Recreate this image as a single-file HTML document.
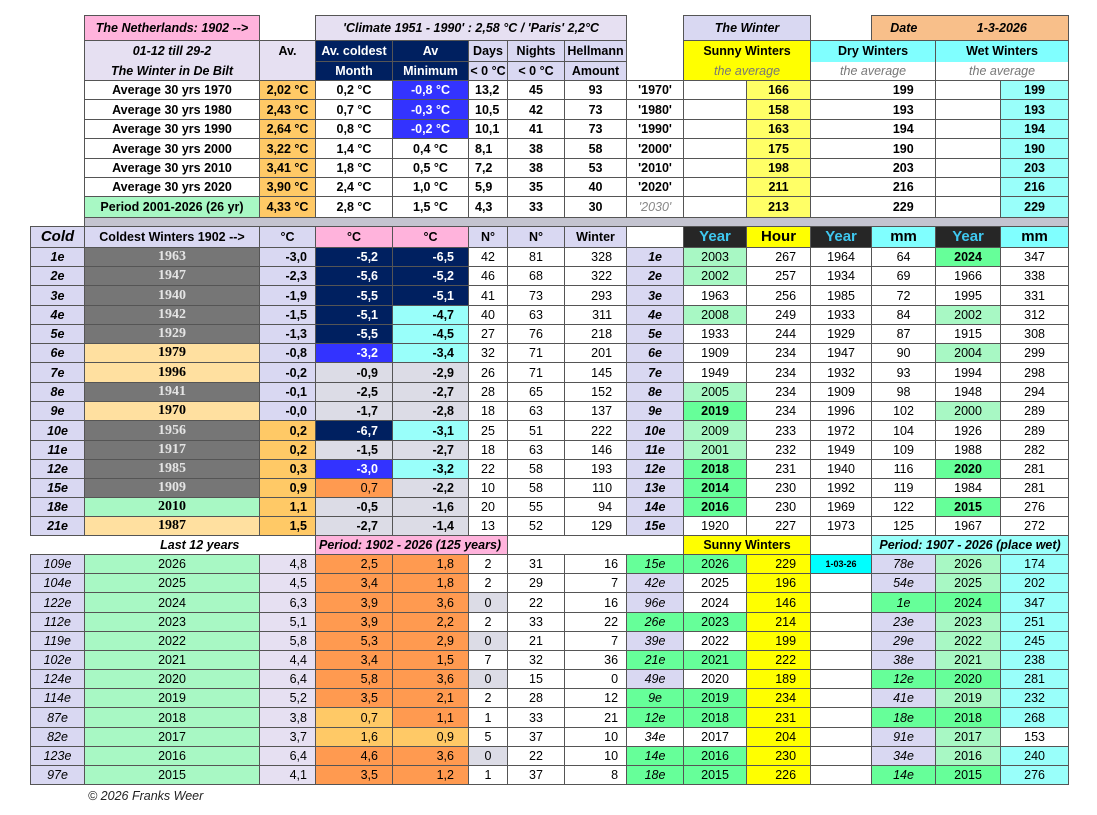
<!DOCTYPE html>
<html><head><meta charset="utf-8"><style>
body{margin:0;background:#fff;width:1097px;height:815px;overflow:hidden;font-family:"Liberation Sans",sans-serif;}
table{position:absolute;left:30px;top:15px;border-collapse:collapse;table-layout:fixed;width:1038px;}
td{border:1px solid #555;padding:0;text-align:center;font-size:12.5px;line-height:14px;overflow:hidden;white-space:nowrap;color:#000}
td.n{border:none;background:#fff}
.b{font-weight:bold}.i{font-style:italic}
.r{text-align:right;padding-right:14px}.r8{text-align:right;padding-right:8px}.l{text-align:left;padding-left:6px}
.pk{background:#ffb3dc}.lv{background:#e6e0f2}.lv2{background:#d9d8f2}.nv{background:#002060;color:#fff}
.bl{background:#3333ff;color:#fff}.or{background:#ffc966}.cy{background:#99fffa}.cy2{background:#80ffff}
.ye{background:#ffff00}.ye2{background:#ffff66}.gr{background:#a8f8c4}.sg{background:#66ff99}
.gy{background:#767676;color:#e4e4e4;font-family:"Liberation Serif",serif;font-size:14px}
.pe{background:#ffe0a0;font-family:"Liberation Serif",serif;font-size:14px}
.gs{font-family:"Liberation Serif",serif;font-size:14px}
.gl{background:#dcdce6}.o2{background:#ff9a50}.dk{background:#262626;color:#3fc8f0;font-size:15px}
.dt{background:#f8bf8a}.sep{background:#c4c4d0}.cyh{background:#00ffff}
.h15{font-size:15px}
</style></head><body>
<table>
<colgroup><col style="width:54px"><col style="width:175px"><col style="width:56px"><col style="width:77px"><col style="width:76px"><col style="width:39px"><col style="width:57px"><col style="width:62px"><col style="width:57px"><col style="width:63px"><col style="width:64px"><col style="width:61px"><col style="width:64px"><col style="width:65px"><col style="width:68px"></colgroup>
<tr style="height:25px"><td class="n"></td><td class="pk b i">The Netherlands: 1902 --&gt;</td><td class="n"></td><td colspan="5" class="lv b i">'Climate 1951 - 1990' : 2,58 °C / 'Paris' 2,2°C</td><td class="n"></td><td colspan="2" class="lv2 b i">The Winter</td><td class="n"></td><td class="dt b i" style="border-right:none">Date</td><td colspan="2" class="dt b i" style="border-left:none">1-3-2026</td></tr>
<tr style="height:21px"><td class="n"></td><td class="lv b i" style="border-bottom:none">01-12 till 29-2</td><td class="lv b" style="border-bottom:none">Av.</td><td class="nv b">Av. coldest</td><td class="nv b">Av</td><td class="lv2 b">Days</td><td class="lv2 b">Nights</td><td class="lv2 b">Hellmann</td><td class="n"></td><td colspan="2" class="ye b" style="border-bottom:none">Sunny Winters</td><td colspan="2" class="cy2 b" style="border-bottom:none">Dry Winters</td><td colspan="2" class="cy2 b" style="border-bottom:none">Wet Winters</td></tr>
<tr style="height:19px"><td class="n"></td><td class="lv b i" style="border-top:none">The Winter in De Bilt</td><td class="lv" style="border-top:none"></td><td class="nv b">Month</td><td class="nv b">Minimum</td><td class="lv2 b">&lt; 0 °C</td><td class="lv2 b">&lt; 0 °C</td><td class="lv2 b">Amount</td><td class="n"></td><td colspan="2" class="ye i" style="color:#777;border-top:none">the average</td><td colspan="2" class="i" style="color:#777;border-top:none">the average</td><td colspan="2" class="i" style="color:#777;border-top:none">the average</td></tr>
<tr style="height:19px" class="b"><td class="n"></td><td class="b">Average 30 yrs 1970</td><td class="or b">2,02 °C</td><td class="b">0,2 °C</td><td class="bl b">-0,8 °C</td><td class="b l">13,2</td><td class="b">45</td><td class="b">93</td><td class="b">'1970'</td><td style="border-right:none"></td><td class="ye2 b">166</td><td style="border-right:none"></td><td class="b" style="border-left:none">199</td><td style="border-right:none"></td><td class="cy b">199</td></tr>
<tr style="height:20px"><td class="n"></td><td class="b">Average 30 yrs 1980</td><td class="or b">2,43 °C</td><td class="b">0,7 °C</td><td class="bl b">-0,3 °C</td><td class="b l">10,5</td><td class="b">42</td><td class="b">73</td><td class="b">'1980'</td><td style="border-right:none"></td><td class="ye2 b">158</td><td style="border-right:none"></td><td class="b" style="border-left:none">193</td><td style="border-right:none"></td><td class="cy b">193</td></tr>
<tr style="height:19px"><td class="n"></td><td class="b">Average 30 yrs 1990</td><td class="or b">2,64 °C</td><td class="b">0,8 °C</td><td class="bl b">-0,2 °C</td><td class="b l">10,1</td><td class="b">41</td><td class="b">73</td><td class="b">'1990'</td><td style="border-right:none"></td><td class="ye2 b">163</td><td style="border-right:none"></td><td class="b" style="border-left:none">194</td><td style="border-right:none"></td><td class="cy b">194</td></tr>
<tr style="height:20px"><td class="n"></td><td class="b">Average 30 yrs 2000</td><td class="or b">3,22 °C</td><td class="b">1,4 °C</td><td class="b">0,4 °C</td><td class="b l">8,1</td><td class="b">38</td><td class="b">58</td><td class="b">'2000'</td><td style="border-right:none"></td><td class="ye2 b">175</td><td style="border-right:none"></td><td class="b" style="border-left:none">190</td><td style="border-right:none"></td><td class="cy b">190</td></tr>
<tr style="height:19px"><td class="n"></td><td class="b">Average 30 yrs 2010</td><td class="or b">3,41 °C</td><td class="b">1,8 °C</td><td class="b">0,5 °C</td><td class="b l">7,2</td><td class="b">38</td><td class="b">53</td><td class="b">'2010'</td><td style="border-right:none"></td><td class="ye2 b">198</td><td style="border-right:none"></td><td class="b" style="border-left:none">203</td><td style="border-right:none"></td><td class="cy b">203</td></tr>
<tr style="height:19px"><td class="n"></td><td class="b">Average 30 yrs 2020</td><td class="or b">3,90 °C</td><td class="b">2,4 °C</td><td class="b">1,0 °C</td><td class="b l">5,9</td><td class="b">35</td><td class="b">40</td><td class="b">'2020'</td><td style="border-right:none"></td><td class="ye2 b">211</td><td style="border-right:none"></td><td class="b" style="border-left:none">216</td><td style="border-right:none"></td><td class="cy b">216</td></tr>
<tr style="height:21px"><td class="n"></td><td class="gr b">Period 2001-2026 (26 yr)</td><td class="or b">4,33 °C</td><td class="b">2,8 °C</td><td class="b">1,5 °C</td><td class="b l">4,3</td><td class="b">33</td><td class="b">30</td><td class="i" style="color:#888">'2030'</td><td style="border-right:none"></td><td class="ye2 b">213</td><td style="border-right:none"></td><td class="b" style="border-left:none">229</td><td style="border-right:none"></td><td class="cy b">229</td></tr>
<tr style="height:9px"><td class="n"></td><td colspan="14" class="sep"></td></tr>
<tr style="height:21px"><td class="lv2 b i h15">Cold</td><td class="lv2 b">Coldest Winters 1902 --&gt;</td><td class="lv2 b">°C</td><td class="pk b">°C</td><td class="pk b">°C</td><td class="lv2 b">N°</td><td class="lv2 b">N°</td><td class="lv2 b">Winter</td><td class="n"></td><td class="dk b">Year</td><td class="ye b h15">Hour</td><td class="dk b">Year</td><td class="cy2 b h15">mm</td><td class="dk b">Year</td><td class="cy2 b h15">mm</td></tr>
<tr style="height:19px"><td class="lv2 b i">1e</td><td class="gy b">1963</td><td class="lv2 b r8">-3,0</td><td class="nv b r">-5,2</td><td class="nv b r">-6,5</td><td>42</td><td>81</td><td class="r">328</td><td class="lv2 b i">1e</td><td class="gr">2003</td><td class="r">267</td><td>1964</td><td>64</td><td class="sg b">2024</td><td>347</td></tr>
<tr style="height:19px"><td class="lv2 b i">2e</td><td class="gy b">1947</td><td class="lv2 b r8">-2,3</td><td class="nv b r">-5,6</td><td class="nv b r">-5,2</td><td>46</td><td>68</td><td class="r">322</td><td class="lv2 b i">2e</td><td class="gr">2002</td><td class="r">257</td><td>1934</td><td>69</td><td>1966</td><td>338</td></tr>
<tr style="height:20px"><td class="lv2 b i">3e</td><td class="gy b">1940</td><td class="lv2 b r8">-1,9</td><td class="nv b r">-5,5</td><td class="nv b r">-5,1</td><td>41</td><td>73</td><td class="r">293</td><td class="lv2 b i">3e</td><td>1963</td><td class="r">256</td><td>1985</td><td>72</td><td>1995</td><td>331</td></tr>
<tr style="height:19px"><td class="lv2 b i">4e</td><td class="gy b">1942</td><td class="lv2 b r8">-1,5</td><td class="nv b r">-5,1</td><td class="cy b r">-4,7</td><td>40</td><td>63</td><td class="r">311</td><td class="lv2 b i">4e</td><td class="gr">2008</td><td class="r">249</td><td>1933</td><td>84</td><td class="gr">2002</td><td>312</td></tr>
<tr style="height:19px"><td class="lv2 b i">5e</td><td class="gy b">1929</td><td class="lv2 b r8">-1,3</td><td class="nv b r">-5,5</td><td class="cy b r">-4,5</td><td>27</td><td>76</td><td class="r">218</td><td class="lv2 b i">5e</td><td>1933</td><td class="r">244</td><td>1929</td><td>87</td><td>1915</td><td>308</td></tr>
<tr style="height:19px"><td class="lv2 b i">6e</td><td class="pe b">1979</td><td class="lv2 b r8">-0,8</td><td class="bl b r">-3,2</td><td class="cy b r">-3,4</td><td>32</td><td>71</td><td class="r">201</td><td class="lv2 b i">6e</td><td>1909</td><td class="r">234</td><td>1947</td><td>90</td><td class="gr">2004</td><td>299</td></tr>
<tr style="height:20px"><td class="lv2 b i">7e</td><td class="pe b">1996</td><td class="lv2 b r8">-0,2</td><td class="gl b r">-0,9</td><td class="gl b r">-2,9</td><td>26</td><td>71</td><td class="r">145</td><td class="lv2 b i">7e</td><td>1949</td><td class="r">234</td><td>1932</td><td>93</td><td>1994</td><td>298</td></tr>
<tr style="height:19px"><td class="lv2 b i">8e</td><td class="gy b">1941</td><td class="lv2 b r8">-0,1</td><td class="gl b r">-2,5</td><td class="gl b r">-2,7</td><td>28</td><td>65</td><td class="r">152</td><td class="lv2 b i">8e</td><td class="gr">2005</td><td class="r">234</td><td>1909</td><td>98</td><td>1948</td><td>294</td></tr>
<tr style="height:19px"><td class="lv2 b i">9e</td><td class="pe b">1970</td><td class="lv2 b r8">-0,0</td><td class="gl b r">-1,7</td><td class="gl b r">-2,8</td><td>18</td><td>63</td><td class="r">137</td><td class="lv2 b i">9e</td><td class="sg b">2019</td><td class="r">234</td><td>1996</td><td>102</td><td class="gr">2000</td><td>289</td></tr>
<tr style="height:20px"><td class="lv2 b i">10e</td><td class="gy b">1956</td><td class="or b r8">0,2</td><td class="nv b r">-6,7</td><td class="cy b r">-3,1</td><td>25</td><td>51</td><td class="r">222</td><td class="lv2 b i">10e</td><td class="gr">2009</td><td class="r">233</td><td>1972</td><td>104</td><td>1926</td><td>289</td></tr>
<tr style="height:19px"><td class="lv2 b i">11e</td><td class="gy b">1917</td><td class="or b r8">0,2</td><td class="gl b r">-1,5</td><td class="gl b r">-2,7</td><td>18</td><td>63</td><td class="r">146</td><td class="lv2 b i">11e</td><td class="gr">2001</td><td class="r">232</td><td>1949</td><td>109</td><td>1988</td><td>282</td></tr>
<tr style="height:19px"><td class="lv2 b i">12e</td><td class="gy b">1985</td><td class="or b r8">0,3</td><td class="bl b r">-3,0</td><td class="cy b r">-3,2</td><td>22</td><td>58</td><td class="r">193</td><td class="lv2 b i">12e</td><td class="sg b">2018</td><td class="r">231</td><td>1940</td><td>116</td><td class="sg b">2020</td><td>281</td></tr>
<tr style="height:19px"><td class="lv2 b i">15e</td><td class="gy b">1909</td><td class="or b r8">0,9</td><td class="o2 r">0,7</td><td class="gl b r">-2,2</td><td>10</td><td>58</td><td class="r">110</td><td class="lv2 b i">13e</td><td class="sg b">2014</td><td class="r">230</td><td>1992</td><td>119</td><td>1984</td><td>281</td></tr>
<tr style="height:19px"><td class="lv2 b i">18e</td><td class="gr b gs">2010</td><td class="or b r8">1,1</td><td class="gl b r">-0,5</td><td class="gl b r">-1,6</td><td>20</td><td>55</td><td class="r">94</td><td class="lv2 b i">14e</td><td class="sg b">2016</td><td class="r">230</td><td>1969</td><td>122</td><td class="sg b">2015</td><td>276</td></tr>
<tr style="height:19px"><td class="lv2 b i">21e</td><td class="pe b">1987</td><td class="or b r8">1,5</td><td class="gl b r">-2,7</td><td class="gl b r">-1,4</td><td>13</td><td>52</td><td class="r">129</td><td class="lv2 b i">15e</td><td>1920</td><td class="r">227</td><td>1973</td><td>125</td><td>1967</td><td>272</td></tr>
<tr style="height:19px"><td class="n"></td><td colspan="2" class="n b i">Last 12 years</td><td colspan="3" class="pk b i" style="text-align:left;padding-left:3px">Period: 1902 - 2026 (125 years)</td><td class="n"></td><td class="n"></td><td class="n"></td><td colspan="2" class="ye b">Sunny Winters</td><td class="n"></td><td colspan="3" class="cy b i">Period: 1907 - 2026 (place wet)</td></tr>
<tr style="height:19px"><td class="lv2 i">109e</td><td class="gr">2026</td><td class="lv r8">4,8</td><td class="o2 r">2,5</td><td class="o2 r">1,8</td><td>2</td><td>31</td><td class="r8">16</td><td class="sg i">15e</td><td class="sg">2026</td><td class="ye r">229</td><td class="cyh b" style="font-size:9px">1-03-26</td><td class="lv2 i">78e</td><td class="gr">2026</td><td class="cy">174</td></tr>
<tr style="height:19px"><td class="lv2 i">104e</td><td class="gr">2025</td><td class="lv r8">4,5</td><td class="o2 r">3,4</td><td class="o2 r">1,8</td><td>2</td><td>29</td><td class="r8">7</td><td class="lv2 i">42e</td><td>2025</td><td class="ye r">196</td><td></td><td class="lv2 i">54e</td><td class="gr">2025</td><td class="cy">202</td></tr>
<tr style="height:20px"><td class="lv2 i">122e</td><td class="gr">2024</td><td class="lv r8">6,3</td><td class="o2 r">3,9</td><td class="o2 r">3,6</td><td class="gl">0</td><td>22</td><td class="r8">16</td><td class="lv2 i">96e</td><td>2024</td><td class="ye r">146</td><td></td><td class="sg i">1e</td><td class="sg">2024</td><td class="cy">347</td></tr>
<tr style="height:19px"><td class="lv2 i">112e</td><td class="gr">2023</td><td class="lv r8">5,1</td><td class="o2 r">3,9</td><td class="o2 r">2,2</td><td>2</td><td>33</td><td class="r8">22</td><td class="sg i">26e</td><td class="sg">2023</td><td class="ye r">214</td><td></td><td class="lv2 i">23e</td><td class="gr">2023</td><td class="cy">251</td></tr>
<tr style="height:19px"><td class="lv2 i">119e</td><td class="gr">2022</td><td class="lv r8">5,8</td><td class="o2 r">5,3</td><td class="o2 r">2,9</td><td class="gl">0</td><td>21</td><td class="r8">7</td><td class="lv2 i">39e</td><td>2022</td><td class="ye r">199</td><td></td><td class="lv2 i">29e</td><td class="gr">2022</td><td class="cy">245</td></tr>
<tr style="height:19px"><td class="lv2 i">102e</td><td class="gr">2021</td><td class="lv r8">4,4</td><td class="o2 r">3,4</td><td class="o2 r">1,5</td><td>7</td><td>32</td><td class="r8">36</td><td class="sg i">21e</td><td class="sg">2021</td><td class="ye r">222</td><td></td><td class="lv2 i">38e</td><td class="gr">2021</td><td class="cy">238</td></tr>
<tr style="height:19px"><td class="lv2 i">124e</td><td class="gr">2020</td><td class="lv r8">6,4</td><td class="o2 r">5,8</td><td class="o2 r">3,6</td><td class="gl">0</td><td>15</td><td class="r8">0</td><td class="lv2 i">49e</td><td>2020</td><td class="ye r">189</td><td></td><td class="sg i">12e</td><td class="sg">2020</td><td class="cy">281</td></tr>
<tr style="height:19px"><td class="lv2 i">114e</td><td class="gr">2019</td><td class="lv r8">5,2</td><td class="o2 r">3,5</td><td class="o2 r">2,1</td><td>2</td><td>28</td><td class="r8">12</td><td class="sg i">9e</td><td class="sg">2019</td><td class="ye r">234</td><td></td><td class="lv2 i">41e</td><td class="gr">2019</td><td class="cy">232</td></tr>
<tr style="height:20px"><td class="lv2 i">87e</td><td class="gr">2018</td><td class="lv r8">3,8</td><td class="or r">0,7</td><td class="o2 r">1,1</td><td>1</td><td>33</td><td class="r8">21</td><td class="sg i">12e</td><td class="sg">2018</td><td class="ye r">231</td><td></td><td class="sg i">18e</td><td class="sg">2018</td><td class="cy">268</td></tr>
<tr style="height:19px"><td class="lv2 i">82e</td><td class="gr">2017</td><td class="lv r8">3,7</td><td class="or r">1,6</td><td class="or r">0,9</td><td>5</td><td>37</td><td class="r8">10</td><td class="i">34e</td><td>2017</td><td class="ye r">204</td><td></td><td class="lv2 i">91e</td><td class="gr">2017</td><td>153</td></tr>
<tr style="height:19px"><td class="lv2 i">123e</td><td class="gr">2016</td><td class="lv r8">6,4</td><td class="o2 r">4,6</td><td class="o2 r">3,6</td><td class="gl">0</td><td>22</td><td class="r8">10</td><td class="sg i">14e</td><td class="sg">2016</td><td class="ye r">230</td><td></td><td class="lv2 i">34e</td><td class="gr">2016</td><td class="cy">240</td></tr>
<tr style="height:19px"><td class="lv2 i">97e</td><td class="gr">2015</td><td class="lv r8">4,1</td><td class="o2 r">3,5</td><td class="o2 r">1,2</td><td>1</td><td>37</td><td class="r8">8</td><td class="sg i">18e</td><td class="sg">2015</td><td class="ye r">226</td><td></td><td class="sg i">14e</td><td class="sg">2015</td><td class="cy">276</td></tr>
</table>
<div style="position:absolute;left:88px;top:789px;font-size:12.5px;font-style:italic;color:#222">© 2026 Franks Weer</div>
</body></html>
